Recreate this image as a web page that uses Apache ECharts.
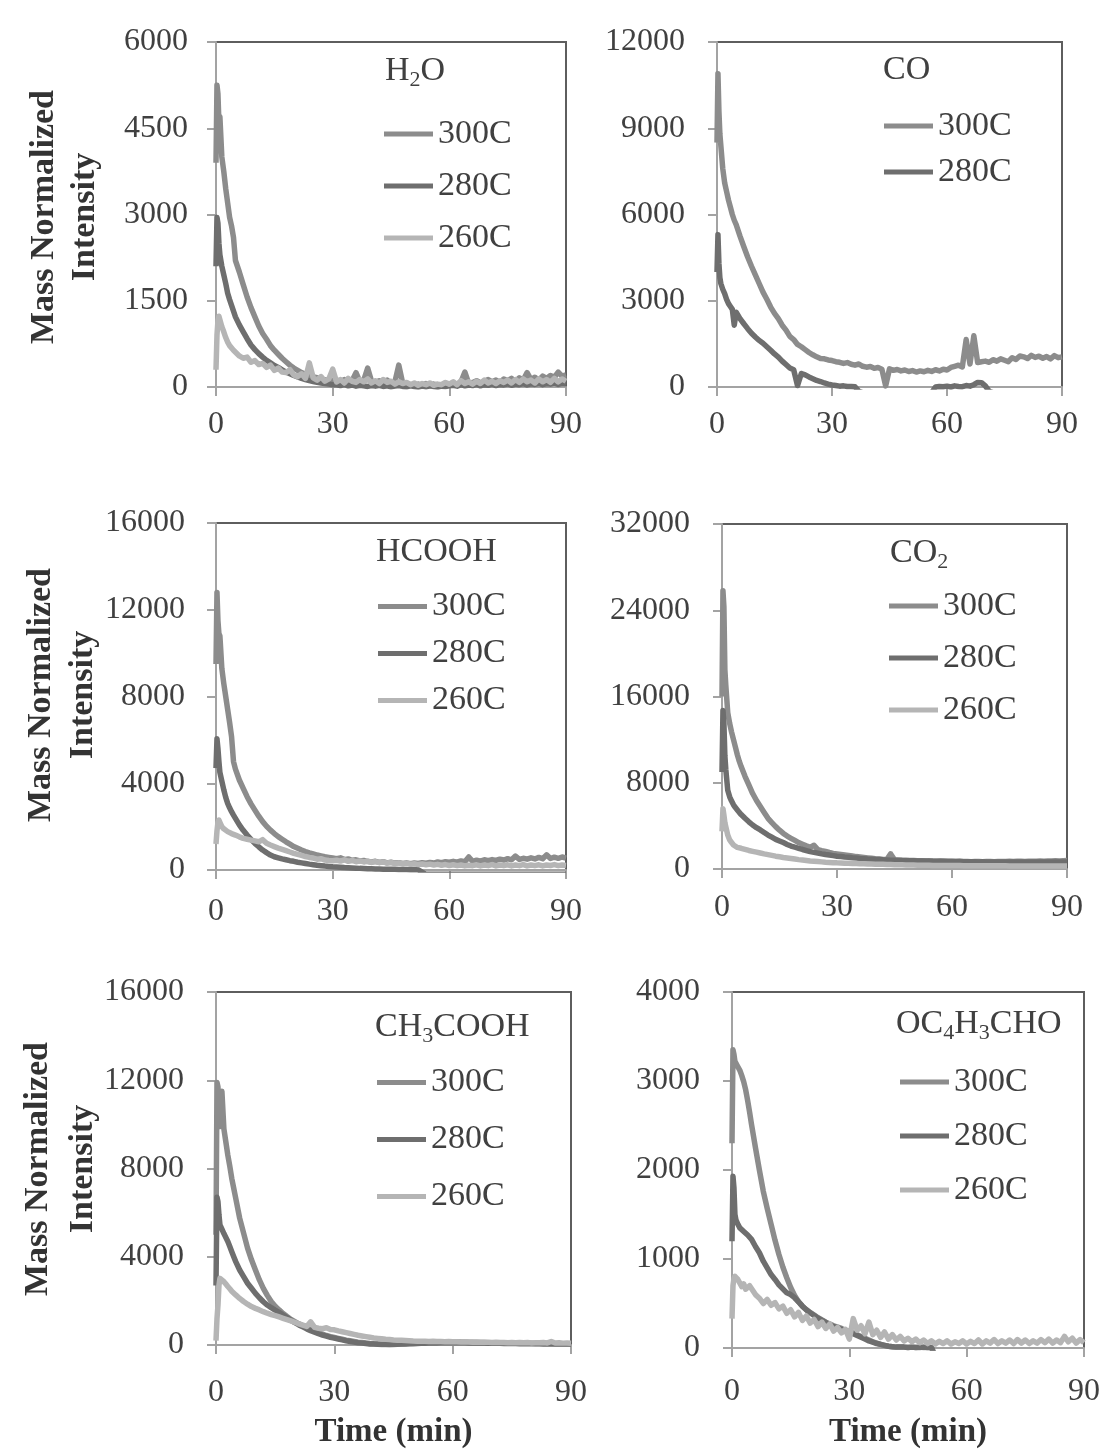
<!DOCTYPE html>
<html><head><meta charset="utf-8">
<script src="https://cdn.jsdelivr.net/npm/echarts@6/dist/echarts.min.js"></script>
<style>html,body{margin:0;padding:0;background:#fff}#c{width:1104px;height:1452px}</style>
</head><body><div id="c"></div>
<script>
// Time axis (minutes)
const timeMin = [0,0.25,0.5,0.75,1,1.5,2,2.5,3,3.5,4,4.5,
 5,6,7,8,9,10,11,12,13,14,15,16,17,18,19,20,21,22,23,24,25,26,27,28,29,30,
 31,32,33,34,35,36,37,38,39,40,41,42,43,44,45,46,47,48,49,50,51,52,53,54,55,56,57,58,59,60,
 61,62,63,64,65,66,67,68,69,70,71,72,73,74,75,76,77,78,79,80,81,82,83,84,85,86,87,88,89,90];

// H2O
const h2o300 = [3900,5250,5100,4600,4700,4000,3750,3450,3200,2950,2800,2600,
 2200,2000,1780,1565,1380,1220,1060,930,830,720,640,570,500,440,380,330,290,250,220,200,175,160,140,125,115,110,
 120,90,130,80,110,250,90,120,330,100,70,110,80,120,60,90,380,70,60,40,30,50,30,60,20,50,40,30,60,50,
 70,40,90,260,60,80,110,70,100,130,90,120,80,140,110,150,100,160,120,250,130,170,120,190,150,200,170,260,190,210];
const h2o280 = [2100,2950,2850,2500,2300,2100,1950,1800,1630,1520,1420,1320,
 1220,1080,960,840,730,650,580,520,465,420,375,340,300,260,230,200,175,150,130,110,95,80,70,60,50,40,
 40,25,45,20,35,15,30,20,10,25,15,30,10,20,5,15,25,10,5,20,10,0,15,5,20,10,0,15,10,20,
 30,15,40,20,35,25,45,20,40,30,50,25,45,35,55,30,50,40,60,35,55,45,65,40,60,50,70,45,65,55];
const h2o260 = [300,900,1150,1230,1200,1050,960,860,780,720,690,640,
 610,540,500,520,430,460,390,410,340,380,290,330,260,250,300,210,180,230,150,420,160,120,180,100,140,310,
 90,130,70,150,100,80,130,90,140,70,110,60,130,80,100,50,90,60,80,40,70,30,60,40,70,30,50,40,80,50,
 90,40,110,60,90,50,100,60,120,70,100,60,110,80,120,70,130,80,140,90,120,70,140,90,130,80,150,90,140,100];

// CO
const co300 = [8500,10900,9600,8800,8400,7600,7100,6800,6500,6250,6000,5800,
 5650,5250,4880,4520,4200,3900,3600,3300,3050,2780,2560,2380,2150,1980,1760,1650,1480,1400,1300,1200,1120,1050,990,980,940,920,
 880,860,820,850,790,760,800,720,690,710,650,680,620,40,630,580,610,560,590,540,570,520,560,530,580,540,600,560,620,590,
 680,720,760,700,1650,800,1780,850,880,900,860,950,900,980,930,880,1020,960,1080,1050,990,1100,1030,1070,1000,1060,980,1090,1020,1050];
const co280 = [4000,5300,4300,3800,3600,3400,3250,3050,2900,2800,2700,2150,
 2600,2380,2200,2030,1870,1740,1620,1520,1400,1280,1150,1040,900,780,660,600,50,470,420,350,290,230,190,140,100,70,
 50,30,40,15,20,5,-150,-200,-200,-200,-200,-200,-200,-200,-200,-200,-200,-200,-200,-200,-200,-200,-200,-200,-200,-200,0,20,10,30,
 0,40,20,10,50,30,80,160,150,40,-150,-200,-200,-200,-200,-200,-200,-200,-200,-200,-200,-200,-200,-200,-200,-200,-200,-200,-200,-200];

// HCOOH
const hcooh300 = [9500,12800,11500,10900,10800,9300,8600,8000,7400,6800,6150,5000,
 4650,4150,3760,3380,3050,2760,2480,2230,2020,1840,1680,1540,1420,1300,1190,1080,1000,920,850,790,740,690,650,610,580,550,
 520,560,480,510,450,470,420,440,390,370,400,350,380,330,360,320,340,300,330,290,320,300,340,310,350,320,370,340,380,360,
 400,360,420,380,600,400,450,410,470,430,480,440,500,460,520,470,640,490,540,500,560,510,580,520,700,530,590,540,600,550];
const hcooh280 = [4700,6050,5600,5000,4500,4100,3700,3350,3070,2870,2690,2530,
 2380,2080,1830,1610,1410,1230,1070,920,800,690,610,560,510,470,430,400,360,330,300,270,245,220,200,180,165,150,
 140,130,115,105,95,85,75,70,60,55,50,45,40,35,30,30,25,20,20,15,20,10,-100,-200,-200,-200,-200,-200,-200,-200,
 -200,-200,-200,-200,-200,-200,-200,-200,-200,-200,-200,-200,-200,-200,-200,-200,-200,-200,-200,-200,-200,-200,-200,-200,-200,-200,-200,-200,-200,-200];
const hcooh260 = [1200,1800,2200,2300,2200,2000,1900,1850,1770,1720,1680,1640,
 1610,1530,1460,1420,1380,1340,1300,1400,1230,1150,1080,1010,950,890,830,770,720,670,620,580,550,500,520,460,440,430,
 450,410,470,400,440,380,420,370,410,350,390,340,370,320,350,300,330,280,310,270,290,250,280,240,270,230,260,220,250,210,
 240,200,230,190,220,200,240,190,230,200,250,190,230,200,240,190,230,200,250,190,230,200,240,190,230,210,250,200,230,210];

// CO2
const co2300 = [16000,25800,24300,18500,17000,14500,13500,12700,12000,11300,10600,10000,
 9500,8600,7800,7000,6350,5800,5250,4700,4300,3930,3600,3300,3050,2850,2650,2450,2300,2150,2010,2200,1800,1700,1620,1530,1450,1400,
 1350,1300,1250,1200,1150,1110,1070,1030,990,950,920,890,870,1400,850,830,810,800,790,780,770,760,750,760,740,730,740,720,710,720,
 700,710,690,700,680,700,690,680,700,690,680,700,690,700,710,700,720,710,700,720,730,720,740,730,750,740,760,750,770,780];
const co2280 = [9000,14700,13500,10500,9200,7300,6700,6300,5950,5700,5480,5250,
 5050,4700,4380,4080,3830,3620,3380,3150,2950,2750,2600,2450,2280,2130,2020,1920,1810,1710,1610,1540,1470,1400,1340,1290,1240,1190,
 1150,1110,1080,1040,1010,980,960,930,910,890,870,850,840,820,810,800,790,780,770,760,750,750,740,730,730,720,710,710,700,700,
 690,690,680,680,670,670,660,670,660,650,660,650,660,650,640,650,640,650,640,650,640,650,640,650,640,650,660,650,660,650];
const co2260 = [3500,5600,5000,4300,3900,3150,2700,2450,2230,2100,2000,1950,
 1920,1820,1720,1640,1560,1480,1400,1330,1260,1190,1130,1070,1020,970,920,870,830,790,750,720,690,660,630,610,590,570,
 560,540,530,510,500,490,480,470,460,450,440,430,420,410,400,390,385,380,370,360,355,350,345,340,335,330,330,325,320,320,
 315,315,310,310,305,305,300,300,300,295,295,290,290,290,285,285,285,280,280,280,280,275,275,275,280,275,280,275,280,280];

// CH3COOH
const ch3cooh300 = [5000,11900,11700,10200,9900,11500,9800,9200,8600,8100,7550,7100,
 6650,5750,5070,4390,3860,3400,2950,2570,2250,1970,1760,1590,1430,1290,1160,1060,960,870,780,700,620,550,490,430,380,340,
 300,260,220,190,160,130,110,90,70,55,45,35,30,25,30,40,50,60,70,80,90,100,110,120,125,130,135,140,140,145,
 140,135,130,125,120,115,110,110,105,100,100,95,90,90,85,85,80,80,75,75,70,70,70,65,65,60,60,60,55,55];
const ch3cooh280 = [2700,6700,6500,5900,5450,5250,5050,4870,4690,4460,4230,4000,
 3780,3400,3100,2800,2570,2340,2140,1960,1810,1690,1580,1480,1360,1240,1120,1010,910,820,730,650,580,510,450,400,350,310,
 270,230,190,160,130,105,85,65,50,40,30,25,20,20,25,30,40,50,55,60,70,75,80,85,90,95,100,100,105,110,
 105,100,100,95,90,90,85,85,80,80,75,75,70,70,65,65,60,60,60,55,55,55,50,50,50,45,45,45,40,40];
const ch3cooh260 = [200,1200,1800,2700,3020,2950,2870,2760,2650,2550,2440,2350,
 2270,2110,1970,1850,1740,1660,1590,1510,1440,1380,1330,1270,1210,1150,1090,1030,960,900,840,1050,800,760,740,780,700,690,
 640,600,560,520,480,440,410,380,350,320,300,280,260,250,230,220,210,200,190,180,175,170,165,160,170,155,160,150,155,150,
 145,140,150,135,130,140,125,130,120,110,125,110,115,100,110,105,115,100,110,95,105,100,110,95,160,90,100,85,95,80];

// OC4H3CHO
const furf300 = [2300,3350,3300,3220,3200,3160,3120,3060,2990,2900,2780,2650,
 2510,2250,2000,1760,1570,1390,1210,1050,910,790,680,590,520,470,430,400,370,340,315,290,270,250,235,220,200,185,
 170,150,130,110,90,70,55,40,30,20,15,10,10,10,5,10,5,10,5,5,5,-100,-200,-200,-200,-200,-200,-200,-200,-200,
 -200,-200,-200,-200,-200,-200,-200,-200,-200,-200,-200,-200,-200,-200,-200,-200,-200,-200,-200,-200,-200,-200,-200,-200,-200,-200,-200,-200,-200,-200];
const furf280 = [1200,1930,1800,1500,1440,1390,1350,1330,1310,1290,1270,1250,
 1220,1140,1070,975,900,825,770,710,665,620,600,565,520,470,430,395,365,335,310,285,260,240,225,210,195,175,
 160,140,120,100,80,65,50,40,30,20,15,10,10,10,5,10,5,5,10,5,5,-100,-200,-200,-200,-200,-200,-200,-200,-200,
 -200,-200,-200,-200,-200,-200,-200,-200,-200,-200,-200,-200,-200,-200,-200,-200,-200,-200,-200,-200,-200,-200,-200,-200,-200,-200,-200,-200,-200,-200];
const furf260 = [330,700,780,805,790,770,750,690,720,660,650,700,
 690,600,560,500,545,480,510,440,470,390,430,350,400,310,360,280,320,240,290,220,270,190,230,170,210,100,
 330,200,250,160,290,150,200,120,180,100,150,90,130,80,110,70,100,60,90,50,80,45,75,50,80,45,70,50,80,45,
 75,50,90,45,80,55,95,50,80,55,90,50,95,55,90,50,80,55,95,60,100,55,90,60,130,70,110,55,95,60];

// Panel content
const panelTitles = ['H{s|2}O', 'CO', 'HCOOH', 'CO{s|2}', 'CH{s|3}COOH', 'OC{s|4}H{s|3}CHO'];
const yMaxes = [6000, 12000, 16000, 32000, 16000, 4000];
const ySteps = [1500, 3000, 4000, 8000, 4000, 1000];
const xTickStep = 30;
const seriesNames = ['300C', '280C', '260C'];
const panelSeries = [
  [h2o300, h2o280, h2o260],
  [co300, co280],
  [hcooh300, hcooh280, hcooh260],
  [co2300, co2280, co2260],
  [ch3cooh300, ch3cooh280, ch3cooh260],
  [furf300, furf280, furf260]
];
const yTitle = 'Mass Normalized\nIntensity';
const xTitle = 'Time (min)';

// Layout / styling
const layout = [
  {grid:{left:216, top:42, width:350, height:345}, xm:22, ym:28, lg:{left:384, top:108, h:52}, tt:[385, 71]},
  {grid:{left:717, top:42, width:345, height:345}, xm:22, ym:32, lg:{left:884, top:103, h:46}, tt:[883, 70]},
  {grid:{left:216, top:523, width:350, height:347}, xm:26, ym:31, lg:{left:378, top:583, h:47}, tt:[376, 552]},
  {grid:{left:722, top:524, width:345, height:345}, xm:23, ym:32, lg:{left:889, top:580, h:52}, tt:[890, 553]},
  {grid:{left:216, top:992, width:355, height:353}, xm:32, ym:32, lg:{left:377, top:1054, h:57}, tt:[375, 1027]},
  {grid:{left:732, top:992, width:352, height:356}, xm:28, ym:32, lg:{left:900, top:1055, h:54}, tt:[896, 1024]}
];
const yTitlePos = [[64.5, 217, 41], [62, 695, 42], [60.5, 1169, 45]];
const xTitlePos = [[393.5, 1432], [908, 1432]];
const colors = {'300C':'#8c8c8c', '280C':'#6e6e6e', '260C':'#b5b5b5'};
const FONT = '"Liberation Serif", "Times New Roman", serif';
const TXT = '#404040';
const AXIS = '#a3a3a3';
const LW = 5.5;

const grids = [], xAxes = [], yAxes = [], series = [], legends = [], graphics = [];
layout.forEach((L, p) => {
  grids.push(Object.assign({show:true, borderColor:'#5e5e5e', borderWidth:2, backgroundColor:'transparent', outerBoundsMode:'none', containLabel:false}, L.grid));
  xAxes.push({type:'value', gridIndex:p, min:0, max:90, interval:xTickStep,
    axisLine:{show:true, onZero:false, lineStyle:{color:AXIS, width:2}},
    axisTick:{show:true, inside:false, length:9, lineStyle:{color:AXIS, width:2}},
    splitLine:{show:false},
    axisLabel:{margin:L.xm, fontFamily:FONT, fontSize:32, color:TXT, formatter:(v) => String(v)}});
  yAxes.push({type:'value', gridIndex:p, min:0, max:yMaxes[p], interval:ySteps[p],
    axisLine:{show:true, onZero:false, lineStyle:{color:AXIS, width:2}},
    axisTick:{show:true, inside:false, length:9, lineStyle:{color:AXIS, width:2}},
    splitLine:{show:false},
    axisLabel:{margin:L.ym, fontFamily:FONT, fontSize:32, color:TXT, formatter:(v) => String(v)}});
  const names = [];
  panelSeries[p].forEach((vals, k) => {
    const name = seriesNames[k];
    names.push(name);
    series.push({type:'line', name:name, xAxisIndex:p, yAxisIndex:p, symbol:'none', showSymbol:false,
      clip:true, silent:true, animation:false,
      lineStyle:{color:colors[name], width:LW, join:'round'}, itemStyle:{color:colors[name]},
      data: timeMin.map((t, i) => [t, vals[i]])});
  });
  legends.push({data:names.map(n => ({name:n, icon:'rect'})), orient:'vertical', left:L.lg.left, top:L.lg.top,
    itemWidth:49, itemHeight:5, itemGap:0, padding:0, selectedMode:false,
    itemStyle:{borderWidth:0},
    textStyle:{fontFamily:FONT, fontSize:34, color:TXT, lineHeight:L.lg.h}});
  graphics.push({type:'text', x:L.tt[0], y:L.tt[1], silent:true, style:{
    text:panelTitles[p], fontFamily:FONT, fontSize:34, lineHeight:40, fill:TXT,
    align:'left', textAlign:'left', verticalAlign:'middle', textVerticalAlign:'middle',
    rich:{s:{fontFamily:FONT, fontSize:22, lineHeight:14, verticalAlign:'bottom', fill:TXT}}}});
});
yTitlePos.forEach(([x, y, lh]) => {
  graphics.push({type:'text', x:x, y:y, rotation:Math.PI/2, silent:true, style:{
    text:yTitle, fontFamily:FONT, fontSize:34, fontWeight:'bold', lineHeight:lh, fill:'#333333',
    align:'center', textAlign:'center', verticalAlign:'middle', textVerticalAlign:'middle'}});
});
xTitlePos.forEach(([x, y]) => {
  graphics.push({type:'text', x:x, y:y, silent:true, style:{
    text:xTitle, fontFamily:FONT, fontSize:33, fontWeight:'bold', fill:'#333333',
    align:'center', textAlign:'center', verticalAlign:'middle', textVerticalAlign:'middle'}});
});

const chart = echarts.init(document.getElementById('c'), null, {renderer:'canvas'});
chart.setOption({
  animation:false,
  backgroundColor:'#ffffff',
  grid:grids, xAxis:xAxes, yAxis:yAxes, series:series, legend:legends,
  graphic:{elements:graphics}
});
</script>
</body></html>
